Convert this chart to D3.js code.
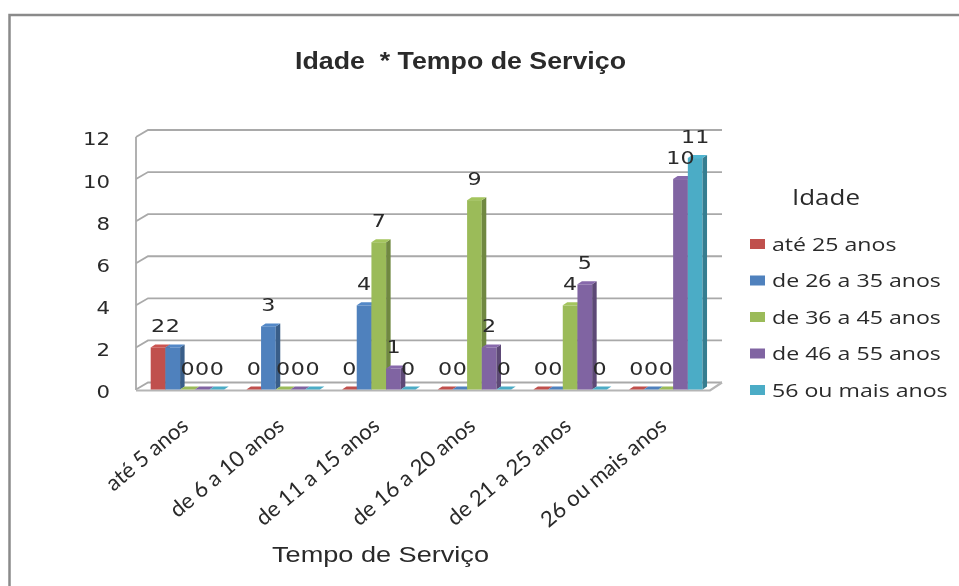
<!DOCTYPE html>
<html><head><meta charset="utf-8">
<script src="https://cdn.jsdelivr.net/npm/d3@7"></script>
<style>html,body{margin:0;padding:0;background:#fff}svg{display:block;filter:blur(.65px)}text{fill:#2a2a2a}</style>
</head><body><svg id="c" width="959" height="586"></svg>
<script>
const title="Idade  * Tempo de Serviço";
const xTitle="Tempo de Serviço";
const legendTitle="Idade";
const categories=["até 5 anos","de 6 a 10 anos","de 11 a 15 anos","de 16 a 20 anos","de 21 a 25 anos","26 ou mais anos"];
const seriesNames=["até 25 anos","de 26 a 35 anos","de 36 a 45 anos","de 46 a 55 anos","56 ou mais anos"];
const v1=[2,0,0,0,0,0];
const v2=[2,3,4,0,0,0];
const v3=[0,0,7,9,4,0];
const v4=[0,0,1,2,5,10];
const v5=[0,0,0,0,0,11];
const seriesValues=[v1,v2,v3,v4,v5];
const colors=["#C0504D","#4F81BD","#9BBB59","#8064A2","#4BACC6"];
const yTicks=[0,2,4,6,8,10,12];

const svg=d3.select("#c");
const L=136,R=710,dx=12,dy=7,bx=4.5,by=3;
const y=d3.scaleLinear().domain([0,12]).range([389.5,137]);
const x0=d3.scaleBand().domain(categories).range([L,R]);
const x1=d3.scaleBand().domain(seriesNames).range([14.7,88.2]);
const grid="#a9a9a9";

// frame
svg.append("path").attr("d","M9.5 586V15H959").attr("fill","none").attr("stroke","#8a8a8a").attr("stroke-width",2.5);

// walls
const w=svg.append("g").attr("fill","none").attr("stroke",grid).attr("stroke-width",1.8);
yTicks.forEach(t=>{
  w.append("path").attr("d",`M${L} ${y(t)}L${L+dx} ${y(t)-dy}L${R+dx} ${y(t)-dy}`);
});
w.append("path").attr("d",`M${L} ${y(0)+.5}V${y(12)}`);
svg.append("path").attr("d",`M${L} ${y(0)+1}H${R}L${R+dx} ${y(0)-dy}`).attr("fill","none").attr("stroke","#b5b5b5").attr("stroke-width",2.2);

// y axis
const ax=svg.append("g").attr("transform",`translate(110,2)`).call(d3.axisLeft(y).tickValues(yTicks).tickSize(0).tickPadding(0));
ax.select(".domain").remove();
ax.selectAll("text").attr("font-family","DejaVu Sans").attr("font-size",18.5).attr("fill","#2a2a2a")
  .attr("transform","scale(1.15,1)").attr("x",0);

// bars
const barW=x1.bandwidth();
categories.forEach((c,ci)=>{
  const g=svg.append("g");
  seriesNames.forEach((s,si)=>{
    const v=seriesValues[si][ci];
    const X=x0(c)+x1(s), Y=y(v), B=y(0), col=d3.color(colors[si]);
    const bw=barW;
    if(v>0){
      g.append("rect").attr("x",X).attr("y",Y).attr("width",bw).attr("height",B-Y).attr("fill",colors[si]);
      g.append("path").attr("d",`M${X+bw} ${Y}l${bx} ${-by}V${B-by}l${-bx} ${by}Z`).attr("fill",col.darker(0.9));
    }
    g.append("path").attr("d",`M${X} ${Y}l${bx} ${-by}h${bw}l${-bx} ${by}Z`).attr("fill",v>0?col.brighter(0.15):colors[si]);
  });
});

// data labels
const lab=svg.append("g").attr("font-family","DejaVu Sans").attr("font-size",18.5).attr("text-anchor","middle");
categories.forEach((c,ci)=>seriesNames.forEach((s,si)=>{
  const v=seriesValues[si][ci];
  lab.append("text").attr("transform",`translate(${x0(c)+x1(s)+barW/2},${y(v)-15}) scale(1.2,1)`).text(v);
}));

// x labels
categories.forEach(c=>{
  svg.append("text").attr("transform",`translate(${x0(c)+x0.bandwidth()/2+6},${428}) rotate(-40)`)
    .attr("text-anchor","end").attr("font-family","Lato").attr("font-size",22).text(c);
});

// titles
svg.append("text").attr("x",295).attr("y",69).attr("font-family","Liberation Sans").attr("font-weight","bold").attr("font-size",24)
  .attr("textLength",331).attr("lengthAdjust","spacingAndGlyphs").style("white-space","pre").text(title);
svg.append("text").attr("x",272).attr("y",562).attr("font-family","Liberation Sans").attr("font-size",22)
  .attr("textLength",217).attr("lengthAdjust","spacingAndGlyphs").text(xTitle);

// legend
svg.append("text").attr("x",792).attr("y",205).attr("font-family","Open Sans").attr("font-size",22).attr("textLength",68).attr("lengthAdjust","spacingAndGlyphs").text(legendTitle);
const ly=d3.scalePoint().domain(seriesNames).range([244,390]);
seriesNames.forEach((s,i)=>{
  svg.append("rect").attr("x",750).attr("y",ly(s)-5).attr("width",15).attr("height",10).attr("fill",colors[i]);
  svg.append("text").attr("transform",`translate(772,${ly(s)+6.5}) scale(1.25,1)`).attr("font-family","Open Sans").attr("font-size",18.5).text(s);
});
</script></body></html>
